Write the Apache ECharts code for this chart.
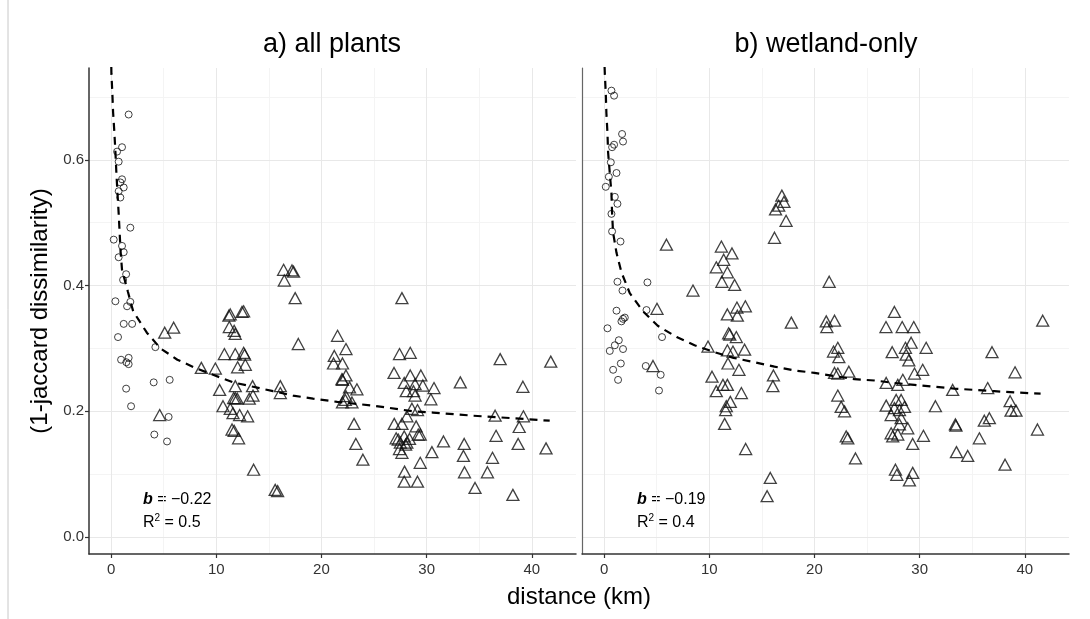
<!DOCTYPE html>
<html>
<head>
<meta charset="utf-8">
<script src="https://cdn.jsdelivr.net/npm/echarts@6/dist/echarts.min.js"></script>
<style>html,body{margin:0;padding:0;background:#fff;}#c{width:1090px;height:619px;}</style>
</head>
<body>
<div id="c"></div>
<script>
// ---- axis ticks / grid ----
const xMajor = [0, 10, 20, 30, 40];
const xMinor = [5, 15, 25, 35];
const yMajor = [0, 0.2, 0.4, 0.6];
const yMinor = [0.1, 0.3, 0.5, 0.7];

// ---- panel a) all plants ----
const allCircDist = [1.67,1.04,0.57,0.72,1.04,0.88,1.2,0.72,0.88,1.83,0.25,1.04,1.2,0.72,1.43,1.14,0.41,1.83,1.52,1.2,2.0,0.66,4.21,0.95,1.67,1.45,1.67,4.05,5.57,1.43,1.9,5.47,4.11,5.32];
const allCircSim  = [0.672,0.620,0.613,0.597,0.569,0.564,0.556,0.550,0.540,0.492,0.473,0.463,0.453,0.445,0.418,0.409,0.375,0.374,0.367,0.339,0.339,0.318,0.302,0.282,0.285,0.278,0.275,0.246,0.250,0.236,0.208,0.191,0.163,0.152];

const allTriDist = [16.4,17.2,17.35,16.47,17.5,17.8,11.33,11.2,12.45,12.6,11.24,11.7,11.8,10.77,11.8,12.6,12.7,12.76,12.03,5.1,5.95,8.58,9.91,10.32,11.81,13.45,16.09,16.09,11.81,11.65,12.0,13.14,13.49,10.64,11.33,11.59,12.22,12.98,4.62,11.5,11.7,12.12,13.55,15.6,15.83,
  21.53,22.33,21.22,22.0,21.15,22.33,22.0,21.95,22.67,23.37,22.33,22.0,22.9,22.27,23.1,23.27,23.94,
  27.65,27.42,28.44,26.9,28.44,29.45,27.87,28.9,29.64,28.06,28.75,28.9,28.6,29.13,28.12,26.92,27.65,29.0,29.39,27.1,27.87,28.37,27.5,28.12,27.42,27.65,29.39,27.9,27.87,29.13,
  30.7,30.4,29.2,27.3,28.0,30.5,31.6,33.2,33.57,33.5,33.6,34.6,35.78,36.26,36.6,36.99,36.51,39.15,39.2,38.8,38.7,38.2,41.35,41.8];
const allTriSim  = [0.425,0.424,0.422,0.408,0.380,0.307,0.354,0.352,0.358,0.359,0.334,0.328,0.323,0.291,0.291,0.293,0.290,0.274,0.270,0.325,0.333,0.269,0.268,0.234,0.240,0.240,0.240,0.229,0.221,0.221,0.220,0.220,0.225,0.208,0.204,0.197,0.194,0.192,0.194,0.171,0.169,0.157,0.107,0.075,0.073,
  0.320,0.299,0.288,0.276,0.276,0.257,0.250,0.251,0.238,0.235,0.224,0.214,0.214,0.218,0.180,0.148,0.123,
  0.380,0.291,0.293,0.261,0.257,0.257,0.245,0.243,0.241,0.232,0.232,0.225,0.204,0.202,0.192,0.180,0.180,0.176,0.163,0.157,0.160,0.156,0.150,0.150,0.140,0.134,0.118,0.104,0.088,0.088,
  0.237,0.219,0.163,0.155,0.147,0.135,0.152,0.246,0.148,0.129,0.103,0.078,0.103,0.126,0.161,0.283,0.193,0.239,0.192,0.175,0.148,0.067,0.141,0.279];

const allCurveDist = [0.0,0.03,0.12,0.19,0.31,0.41,0.50,0.60,0.72,0.82,0.9,1.04,1.6,2.1,3.4,4.7,6.3,8.0,9.7,11.6,13.5,15.4,17.3,19.2,21.5,24.9,28.7,30.6,34.4,38.2,41.7];
const allCurveSim  = [0.77,0.737,0.706,0.676,0.644,0.613,0.580,0.549,0.515,0.482,0.455,0.425,0.39,0.359,0.325,0.30,0.282,0.269,0.258,0.246,0.239,0.232,0.225,0.220,0.215,0.209,0.200,0.198,0.193,0.189,0.185];

// ---- panel b) wetland-only ----
const wetCircDist = [0.70,0.95,1.71,1.80,0.95,0.76,0.64,1.18,0.45,0.16,1.02,1.27,0.70,0.76,1.56,1.27,1.75,4.12,1.18,1.97,1.8,1.65,0.32,4.03,5.51,1.40,1.02,1.80,0.54,1.59,0.86,1.33,3.96,5.38,5.22];
const wetCircSim  = [0.710,0.702,0.641,0.629,0.624,0.620,0.596,0.579,0.573,0.557,0.541,0.530,0.514,0.486,0.470,0.406,0.392,0.405,0.360,0.349,0.347,0.343,0.332,0.361,0.318,0.313,0.305,0.299,0.296,0.276,0.266,0.250,0.272,0.258,0.233];

const wetTriDist = [5.93,11.15,12.16,11.37,10.67,11.72,16.3,16.2,16.9,17.1,17.3,16.6,
  4.65,5.03,8.45,11.2,12.41,12.63,13.43,11.72,12.67,11.84,11.95,12.57,9.88,11.72,12.25,13.36,11.78,12.82,10.26,11.3,11.72,10.67,13.05,12.0,11.62,11.56,11.46,13.46,15.8,15.5,16.1,16.05,17.8,
  21.12,21.91,21.18,27.6,26.8,28.34,29.44,41.7,22.22,21.81,22.32,29.19,28.65,30.62,27.39,28.72,28.97,36.88,21.91,22.22,23.27,29.51,30.29,39.07,26.82,27.92,28.4,33.14,36.47,22.22,22.54,22.86,31.5,38.6,38.69,39.16,
  26.82,27.29,27.77,28.24,27.6,28.08,28.56,28.24,28.08,28.87,33.4,33.45,36.15,36.63,23.02,23.17,27.29,27.44,27.92,30.36,29.34,35.68,41.2,23.9,33.5,34.57,38.12,27.7,27.83,29.34,29.03,21.4];
const wetTriSim  = [0.465,0.462,0.451,0.441,0.429,0.421,0.521,0.476,0.543,0.533,0.503,0.527,
  0.272,0.363,0.392,0.406,0.401,0.365,0.367,0.354,0.352,0.324,0.322,0.318,0.303,0.297,0.295,0.298,0.276,0.266,0.255,0.242,0.242,0.232,0.229,0.215,0.208,0.202,0.180,0.140,0.094,0.065,0.257,0.240,0.341,
  0.343,0.344,0.334,0.358,0.334,0.334,0.334,0.344,0.301,0.295,0.286,0.309,0.301,0.301,0.294,0.290,0.281,0.294,0.261,0.260,0.263,0.260,0.266,0.262,0.245,0.242,0.250,0.234,0.237,0.225,0.207,0.200,0.208,0.216,0.201,0.201,
  0.209,0.194,0.218,0.218,0.205,0.202,0.207,0.189,0.179,0.173,0.179,0.177,0.185,0.189,0.160,0.157,0.165,0.160,0.163,0.161,0.148,0.157,0.171,0.125,0.135,0.129,0.115,0.107,0.099,0.102,0.090,0.406];

const wetCurveDist = [0.0,0.07,0.16,0.22,0.32,0.38,0.54,0.70,0.76,0.85,1.18,1.65,2.44,3.7,5.1,6.9,8.6,10.5,12.3,14.3,16.2,18.1,20.0,23.8,25.7,27.6,29.5,31.4,33.3,35.2,37.1,39.0,41.5];
const wetCurveSim  = [0.77,0.737,0.706,0.674,0.643,0.612,0.579,0.547,0.515,0.485,0.452,0.421,0.388,0.359,0.336,0.318,0.305,0.294,0.285,0.278,0.271,0.265,0.261,0.251,0.249,0.245,0.242,0.239,0.236,0.234,0.232,0.230,0.228];

const zip = (a, b) => a.map((v, i) => [v, b[i]]);
const FONT = 'Liberation Sans, Arial, sans-serif';

function gridLines(idx) {
  const d = [];
  xMinor.forEach(v => d.push({ xAxis: v, lineStyle: { color: '#f4f4f4', width: 1 } }));
  yMinor.forEach(v => d.push({ yAxis: v, lineStyle: { color: '#f4f4f4', width: 1 } }));
  xMajor.forEach(v => d.push({ xAxis: v, lineStyle: { color: '#e8e8e8', width: 1 } }));
  yMajor.forEach(v => d.push({ yAxis: v, lineStyle: { color: '#e8e8e8', width: 1 } }));
  return {
    type: 'scatter', xAxisIndex: idx, yAxisIndex: idx, data: [], z: 0, silent: true,
    markLine: { z: 0, silent: true, symbol: ['none', 'none'], label: { show: false }, animation: false, lineStyle: { type: 'solid' }, data: d }
  };
}

function xAx(idx) {
  return {
    type: 'value', gridIndex: idx, min: -2.1, max: 44.2,
    axisLine: { show: true, onZero: false, lineStyle: { color: '#333', width: 1.5 } },
    axisTick: { show: true, customValues: xMajor, length: 4, lineStyle: { color: '#333', width: 1.2 } },
    axisLabel: { customValues: xMajor, margin: 8, fontSize: 15, color: '#333', fontFamily: FONT },
    splitLine: { show: false }
  };
}

function scat(idx, x, y, sym, size, bw) {
  return { type: 'scatter', xAxisIndex: idx, yAxisIndex: idx, symbol: sym, symbolSize: size,
    itemStyle: { color: 'rgba(0,0,0,0)', borderColor: '#111', borderWidth: bw }, data: zip(x, y), z: 3, silent: true };
}
function curve(idx, x, y) {
  return { type: 'line', xAxisIndex: idx, yAxisIndex: idx, data: zip(x, y), showSymbol: false, clip: true, z: 4, silent: true,
    lineStyle: { color: '#000', width: 2.2, type: [8, 6] } };
}

const chart = echarts.init(document.getElementById('c'), null, { renderer: 'canvas' });
chart.setOption({
  animation: false,
  backgroundColor: '#fff',
  grid: [
    { left: 89, top: 68, width: 487, height: 486 },
    { left: 582, top: 68, width: 487, height: 486 }
  ],
  xAxis: [xAx(0), xAx(1)],
  yAxis: [
    { type: 'value', gridIndex: 0, min: -0.027, max: 0.746,
      axisLine: { show: true, onZero: false, lineStyle: { color: '#333', width: 1.5 } },
      axisTick: { show: true, customValues: yMajor, length: 4, lineStyle: { color: '#333', width: 1.2 } },
      axisLabel: { customValues: yMajor, margin: 5, fontSize: 15, color: '#333', fontFamily: FONT, formatter: v => v.toFixed(1) },
      splitLine: { show: false } },
    { type: 'value', gridIndex: 1, min: -0.027, max: 0.746,
      axisLine: { show: true, onZero: false, lineStyle: { color: '#666', width: 1.2 } },
      axisTick: { show: false }, axisLabel: { show: false }, splitLine: { show: false } }
  ],
  series: [
    gridLines(0), gridLines(1),
    scat(0, allCircDist, allCircSim, 'circle', 7, 1),
    scat(0, allTriDist, allTriSim, 'triangle', [12, 11], 1.3),
    curve(0, allCurveDist, allCurveSim),
    scat(1, wetCircDist, wetCircSim, 'circle', 7, 1),
    scat(1, wetTriDist, wetTriSim, 'triangle', [12, 11], 1.3),
    curve(1, wetCurveDist, wetCurveSim)
  ],
  graphic: [
    { type: 'line', shape: { x1: 8, y1: 0, x2: 8, y2: 619 }, style: { stroke: '#c8c8c8', lineWidth: 1 }, silent: true },
    { type: 'text', x: 332, y: 45, style: { text: 'a) all plants', fontSize: 27, fontFamily: FONT, fill: '#000', align: 'center', verticalAlign: 'middle' } },
    { type: 'text', x: 826, y: 45, style: { text: 'b) wetland-only', fontSize: 27, fontFamily: FONT, fill: '#000', align: 'center', verticalAlign: 'middle' } },
    { type: 'text', x: 579, y: 597, style: { text: 'distance (km)', fontSize: 24, fontFamily: FONT, fill: '#000', align: 'center', verticalAlign: 'middle' } },
    { type: 'text', x: 40, y: 311, rotation: Math.PI / 2, style: { text: '(1-jaccard dissimilarity)', fontSize: 24, fontFamily: FONT, fill: '#000', align: 'center', verticalAlign: 'middle' } },
    { type: 'text', x: 143, y: 500, style: { text: '{i|b}{n| = \u22120.22}', fontFamily: FONT, fill: '#000', verticalAlign: 'middle',
        rich: { i: { fontSize: 16, fontStyle: 'italic', fontWeight: 'bold', fontFamily: FONT }, n: { fontSize: 16, fontFamily: FONT } } } },
    { type: 'text', x: 143, y: 523, style: { text: '{r|R}{s|2}{r| = 0.5}', fontFamily: FONT, fill: '#000', verticalAlign: 'middle',
        rich: { r: { fontSize: 16, fontFamily: FONT, lineHeight: 20 }, s: { fontSize: 10, fontFamily: FONT, verticalAlign: 'top', lineHeight: 20 } } } },
    { type: 'text', x: 637, y: 500, style: { text: '{i|b}{n| = \u22120.19}', fontFamily: FONT, fill: '#000', verticalAlign: 'middle',
        rich: { i: { fontSize: 16, fontStyle: 'italic', fontWeight: 'bold', fontFamily: FONT }, n: { fontSize: 16, fontFamily: FONT } } } },
    { type: 'text', x: 637, y: 523, style: { text: '{r|R}{s|2}{r| = 0.4}', fontFamily: FONT, fill: '#000', verticalAlign: 'middle',
        rich: { r: { fontSize: 16, fontFamily: FONT, lineHeight: 20 }, s: { fontSize: 10, fontFamily: FONT, verticalAlign: 'top', lineHeight: 20 } } } }
  ]
});
</script>
</body>
</html>
